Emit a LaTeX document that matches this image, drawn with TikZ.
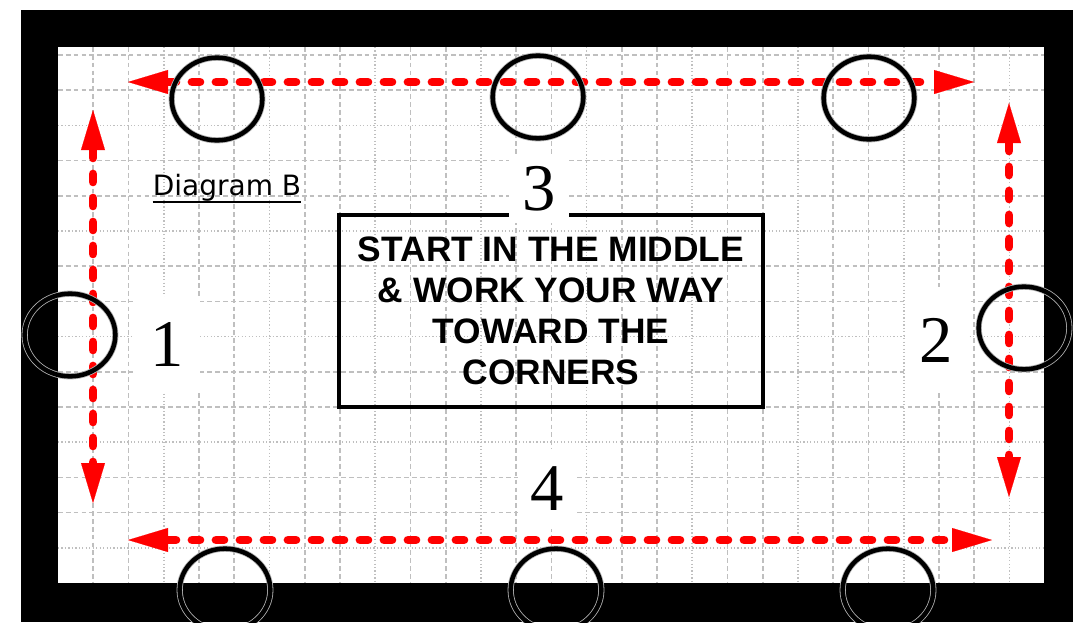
\documentclass[tikz,border=0pt]{standalone}
\usepackage{fontspec}
\setmainfont{Liberation Serif}
\newfontfamily\cajafont{Liberation Sans}
\newfontfamily\titfont{DejaVu Sans}
\usetikzlibrary{arrows.meta,shapes.geometric}

\begin{document}
\begin{tikzpicture}[x=0.75pt,y=-0.75pt,
  rejilla/.style={gray!50,line width=1.3pt,dash pattern=on 3.5pt off 2.4pt},
  puntos/.style={gray!50,line width=1.3pt,dash pattern=on 0.9pt off 1.7pt},
  flecha/.style={red,line width=6.5pt,line cap=round,dash pattern=on 6pt off 12pt,
    {Triangle[length=30pt,width=18pt,line width=0.1pt]}-{Triangle[length=30pt,width=18pt,line width=0.1pt]}},
  anillo/.style={draw,ellipse,line width=3.4pt,minimum width=68pt,minimum height=62pt,
    preaction={draw,gray!60,line width=4.6pt}},
  numero/.style={fill=white,inner sep=0pt,font=\fontsize{50}{50}\selectfont}]
  \useasboundingbox (0,0) rectangle (1073,622);
  \fill (21,10) rectangle (1073,622);
  \fill[white] (58,47) rectangle (1044,583);
  \foreach \k in {1,...,27}{
    \pgfmathsetmacro\gx{58+35.24*\k}
    \pgfmathtruncatemacro\m{mod(\k,3)}
    \ifnum\m=0 \draw[puntos] (\gx,47) -- (\gx,583); \else \draw[rejilla] (\gx,47) -- (\gx,583); \fi
  }
  \foreach \k in {0,...,14}{
    \pgfmathsetmacro\gy{55+35.2*\k}
    \pgfmathtruncatemacro\m{mod(\k,3)}
    \ifnum\m=2 \draw[puntos] (58,\gy) -- (1044,\gy); \else \draw[rejilla] (58,\gy) -- (1044,\gy); \fi
  }
  \node[draw,line width=3pt,minimum width=318pt,minimum height=144pt,align=center,
    font=\cajafont\bfseries\fontsize{26.5}{30.75}\selectfont] (aviso) at (551,311)
    {START IN THE MIDDLE\\ \& WORK YOUR WAY\\ TOWARD THE\\ CORNERS};
  \node[font=\titfont\fontsize{21}{24}\selectfont,inner sep=0pt] (titulo) at (227,188) {Diagram B};
  \draw[line width=1.5pt] (titulo.south west) -- (titulo.south east);
  \node[numero,minimum width=50pt,minimum height=70pt] (n1) at (167,344) {1};
  \node[numero,minimum width=46pt,minimum height=80pt] (n2) at (936,340) {2};
  \node[numero,minimum width=45pt,minimum height=51pt] (n3) at (539,189) {3};
  \node[numero,minimum width=43pt,minimum height=60pt] (n4) at (547,489) {4};
  \coordinate (ai) at (128,82);  \coordinate (ad) at (974,82);
  \coordinate (bi) at (128,540); \coordinate (bd) at (992,540);
  \coordinate (iz1) at (93,110); \coordinate (iz2) at (93,503);
  \coordinate (de1) at (1009,103); \coordinate (de2) at (1009,497);
  \draw[flecha] (ai) -- (ad);
  \draw[flecha] (bi) -- (bd);
  \draw[flecha] (iz1) -- (iz2);
  \draw[flecha] (de1) -- (de2);
  \node[anillo] (c1) at (217,99) {};
  \node[anillo] (c2) at (538,97) {};
  \node[anillo] (c3) at (869,98) {};
  \node[anillo] (c4) at (70,335) {};
  \node[anillo] (c5) at (1024,328) {};
  \node[anillo] (c6) at (225,590) {};
  \node[anillo] (c7) at (556,590) {};
  \node[anillo] (c8) at (888,590) {};
\end{tikzpicture}
\end{document}
